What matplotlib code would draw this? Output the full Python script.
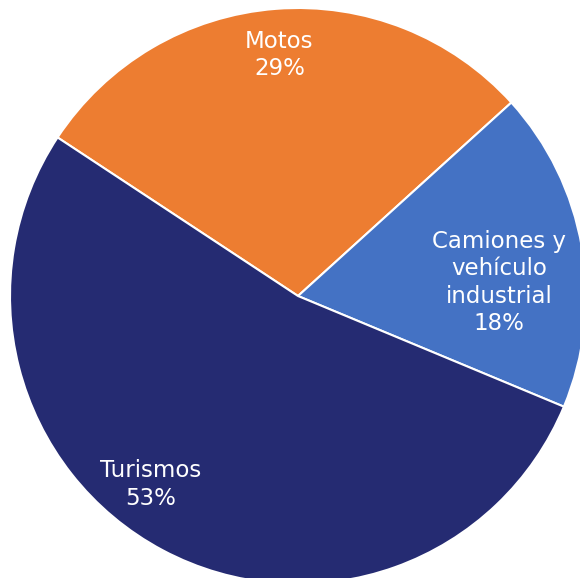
import matplotlib.pyplot as plt
import numpy as np

# Data
categories = ['Motos', 'Camiones y\nvehículo\nindustrial', 'Turismos']
shares = [29, 18, 53]
colors = ['#ED7D31', '#4472C4', '#252B72']

# label placement tweaks (distance from centre, angle shift in degrees)
label_dist = [0.84, 0.70, 0.83]
label_shift = [0, -6, -10]

fig = plt.figure(figsize=(5.8, 5.78), dpi=100)
ax = fig.add_axes([10 / 580, -6 / 578, 576 / 580, 576 / 578])

wedges, texts = ax.pie(shares, colors=colors, startangle=146.6, counterclock=False,
                       radius=1, wedgeprops=dict(edgecolor='white', linewidth=1.5))

for w, cat, val, d, s in zip(wedges, categories, shares, label_dist, label_shift):
    mid = np.deg2rad((w.theta1 + w.theta2) / 2 + s)
    ax.text(d * np.cos(mid), d * np.sin(mid), f'{cat}\n{val}%', ha='center', va='center',
            color='white', fontsize=16.5, family='DejaVu Sans', linespacing=1.25)

ax.set_xlim(-1, 1)
ax.set_ylim(-1, 1)
ax.set_aspect('equal')
ax.axis('off')

plt.savefig('out.png', dpi=100)
